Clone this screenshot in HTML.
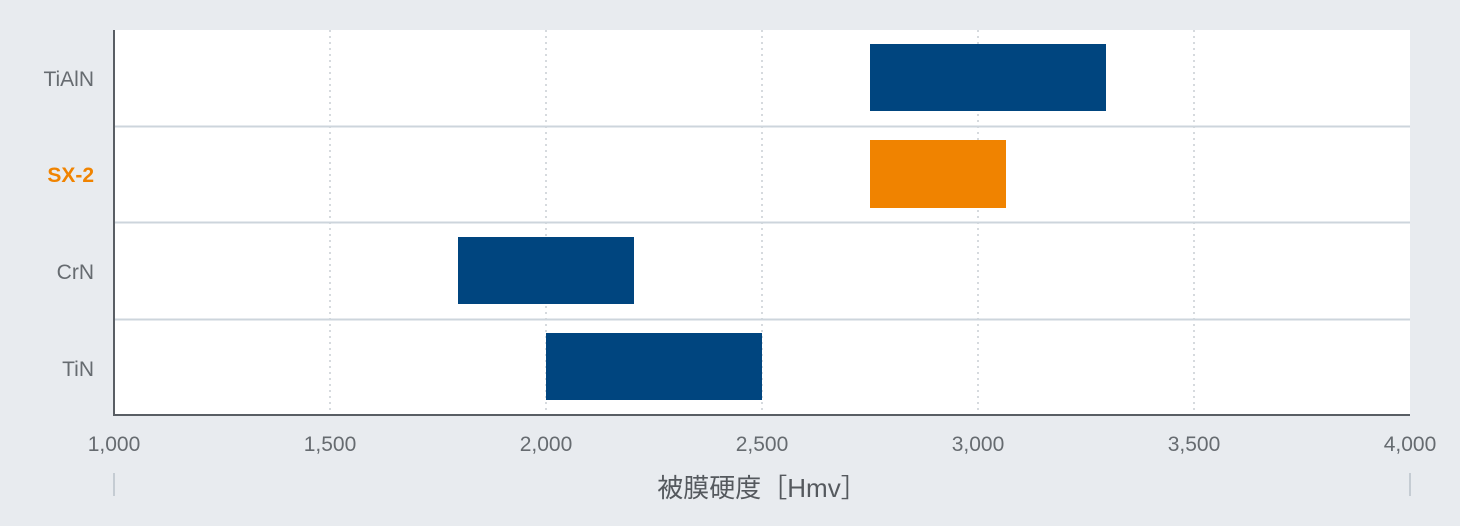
<!DOCTYPE html>
<html><head><meta charset="utf-8"><style>
html,body{margin:0;padding:0;background:#e8ebef;}
svg{display:block;font-family:"Liberation Sans","Noto Sans CJK JP",sans-serif;}
</style></head><body>
<svg width="1460" height="526" viewBox="0 0 1460 526" xmlns="http://www.w3.org/2000/svg">
<rect width="1460" height="526" fill="#e8ebef"/>
<rect x="114" y="30" width="1296" height="385" fill="#fff"/>
<g stroke="#c9ced4" stroke-width="1.5" stroke-dasharray="2,4">
<line x1="330" y1="30" x2="330" y2="415"/>
<line x1="546" y1="30" x2="546" y2="415"/>
<line x1="762" y1="30" x2="762" y2="415"/>
<line x1="978" y1="30" x2="978" y2="415"/>
<line x1="1194" y1="30" x2="1194" y2="415"/>
</g>
<g stroke="#cdd5dc" stroke-width="2">
<line x1="114" y1="126.5" x2="1410" y2="126.5"/>
<line x1="114" y1="222.5" x2="1410" y2="222.5"/>
<line x1="114" y1="319.5" x2="1410" y2="319.5"/>
</g>
<rect x="870" y="44" width="236" height="67" fill="#00457f"/>
<rect x="870" y="140" width="136" height="68" fill="#f08300"/>
<rect x="458" y="237" width="176" height="67" fill="#00457f"/>
<rect x="546" y="333" width="216" height="67" fill="#00457f"/>
<line x1="114" y1="30" x2="114" y2="416" stroke="#595e64" stroke-width="2"/>
<line x1="113" y1="415" x2="1410" y2="415" stroke="#595e64" stroke-width="2"/>
<g font-size="21" fill="#666b70" text-anchor="end">
<text x="94" y="86">TiAlN</text>
<text x="94" y="182" fill="#f08300" font-weight="bold">SX-2</text>
<text x="94" y="279">CrN</text>
<text x="94" y="376">TiN</text>
</g>
<g font-size="21" fill="#666b70" text-anchor="middle">
<text x="114" y="451">1,000</text>
<text x="330" y="451">1,500</text>
<text x="546" y="451">2,000</text>
<text x="762" y="451">2,500</text>
<text x="978" y="451">3,000</text>
<text x="1194" y="451">3,500</text>
<text x="1410" y="451">4,000</text>
</g>
<g stroke="#c5ccd3" stroke-width="2">
<line x1="114" y1="473" x2="114" y2="496"/>
<line x1="1410" y1="473" x2="1410" y2="496"/>
</g>
<text x="762" y="497" font-size="26" fill="#55595e" text-anchor="middle">被膜硬度［Hmv］</text>
</svg>
</body></html>
